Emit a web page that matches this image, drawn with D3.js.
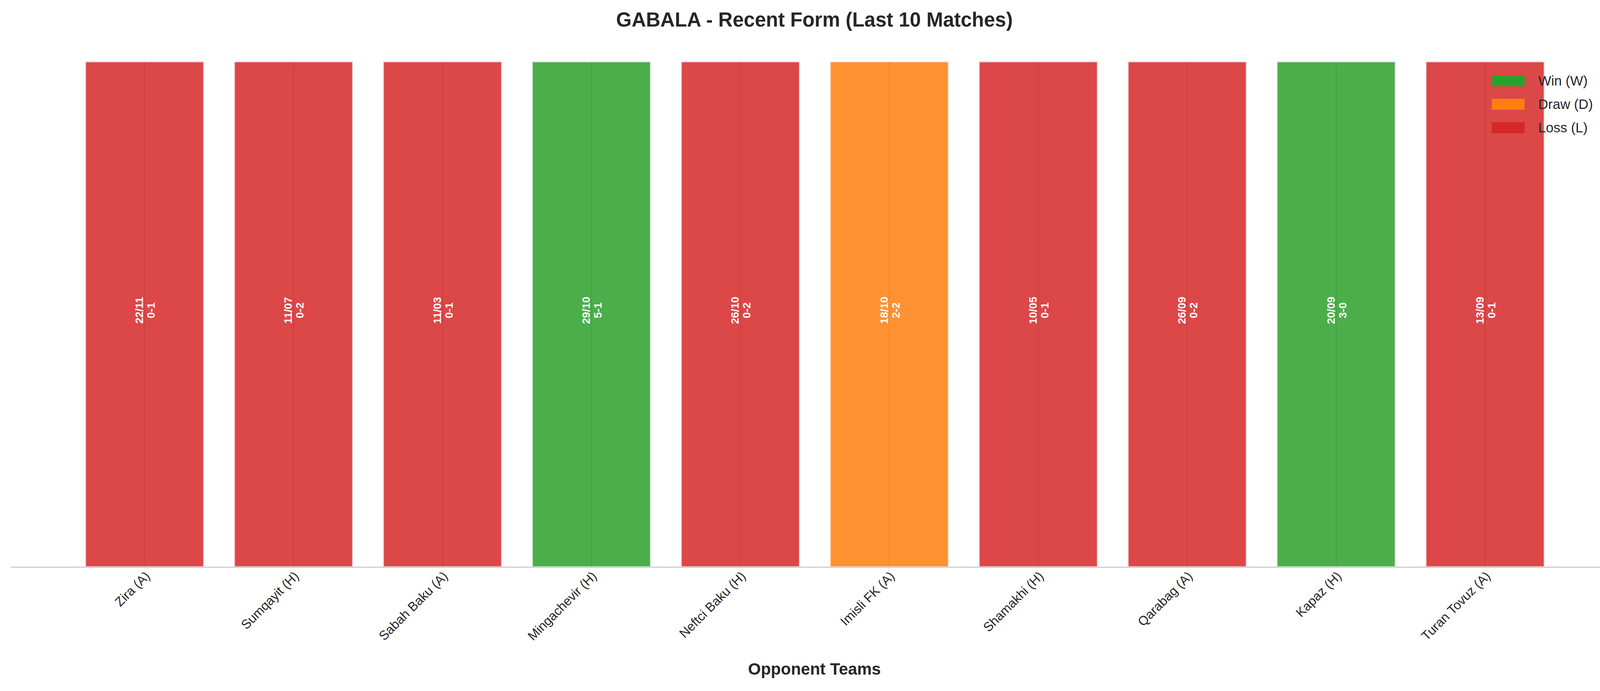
<!DOCTYPE html>
<html><head><meta charset="utf-8">
<script src="https://cdn.jsdelivr.net/npm/d3@7"></script>
<style>body{margin:0;background:#fff;font-family:"Liberation Sans",Arial,sans-serif;}</style>
</head><body>
<script>
var opponents = ["Zira (A)","Sumqayit (H)","Sabah Baku (A)","Mingachevir (H)","Neftci Baku (H)","Imisli FK (A)","Shamakhi (H)","Qarabag (A)","Kapaz (H)","Turan Tovuz (A)"];
var dates = ["22/11","11/07","11/03","29/10","26/10","18/10","10/05","26/09","20/09","13/09"];
var scores = ["0-1","0-2","0-1","5-1","0-2","2-2","0-1","0-2","3-0","0-1"];
var results = ["L","L","L","W","L","D","L","L","W","L"];
var values = [1,1,1,1,1,1,1,1,1,1];
var legendLabels = [["W","Win (W)"],["D","Draw (D)"],["L","Loss (L)"]];
var colors = {W:"#2ca02c", D:"#ff7f0e", L:"#d62728"};

var width = 4170, height = 1770;
var plotLeft = 27, plotRight = 4145, plotTop = 157, plotBottom = 1453;
var svg = d3.select("body").append("svg").attr("width", width).attr("height", height);

var x = d3.scaleBand().domain(opponents).range([plotLeft, plotRight]).paddingInner(0.2).paddingOuter(0.5);
var y = d3.scaleLinear().domain([0, 1]).range([plotBottom, plotTop]);

var data = opponents.map(function(o, i){ return {o:o, d:dates[i], s:scores[i], r:results[i], v:values[i]}; });

svg.selectAll("rect.bar").data(data).enter().append("rect")
    .attr("class","bar")
    .attr("x", function(d){ return x(d.o); })
    .attr("y", function(d){ return y(d.v); })
    .attr("width", x.bandwidth())
    .attr("height", function(d){ return y(0) - y(d.v); })
    .attr("fill", function(d){ return colors[d.r]; })
    .attr("fill-opacity", 0.85)
    .attr("stroke", "#fff").attr("stroke-opacity", 0.8).attr("stroke-width", 5);

// faint grid line through bar centers
svg.selectAll("line.grid").data(data).enter().append("line")
    .attr("x1", function(d){ return x(d.o) + x.bandwidth()/2; })
    .attr("x2", function(d){ return x(d.o) + x.bandwidth()/2; })
    .attr("y1", y(1)).attr("y2", y(0))
    .attr("stroke", "#000").attr("stroke-opacity", 0.06).attr("stroke-width", 3);

var lbl = svg.selectAll("g.lbl").data(data).enter().append("g");
lbl.each(function(d){
    var g = d3.select(this);
    var cy = (y(0) + y(d.v)) / 2;
    g.attr("transform", "translate(" + (x(d.o) + x.bandwidth()/2) + "," + (cy - 10) + ") rotate(-90)");
    g.append("text").attr("text-anchor","middle").attr("y", -4).attr("fill","#fff")
        .attr("font-weight","bold").attr("font-size", 28).text(d.d);
    g.append("text").attr("text-anchor","middle").attr("y", 26).attr("fill","#fff")
        .attr("font-weight","bold").attr("font-size", 28).text(d.s);
});

// x axis
var xAxis = svg.append("g").attr("transform", "translate(0," + plotBottom + ")")
    .call(d3.axisBottom(x).tickSize(0).tickPadding(12));
xAxis.select(".domain").attr("stroke", "#cccccc").attr("stroke-width", 3).attr("d", "M" + plotLeft + ",0H" + plotRight);
xAxis.selectAll("text")
    .attr("font-size", 33).attr("fill", "#262626")
    .attr("font-family", "Liberation Sans, Arial, sans-serif")
    .style("text-anchor", "end")
    .attr("dx", "-0.2em").attr("dy", "0.5em")
    .attr("transform", "rotate(-45)");

svg.append("text").attr("x", width/2).attr("y", 1728).attr("text-anchor","middle")
    .attr("font-size", 42).attr("font-weight","bold").attr("fill","#262626").text("Opponent Teams");

svg.append("text").attr("x", width/2).attr("y", 68).attr("text-anchor","middle")
    .attr("font-size", 51).attr("font-weight","bold").attr("fill","#262626").text("GABALA - Recent Form (Last 10 Matches)");

var lg = svg.append("g").attr("transform", "translate(3819,193)");
lg.selectAll("rect").data(legendLabels).enter().append("rect")
    .attr("x", 0).attr("y", function(d, i){ return i * 60; })
    .attr("width", 84).attr("height", 28)
    .attr("fill", function(d){ return colors[d[0]]; });
lg.selectAll("text").data(legendLabels).enter().append("text")
    .attr("x", 119).attr("y", function(d, i){ return i * 60 + 26; })
    .attr("font-size", 35).attr("fill", "#262626").text(function(d){ return d[1]; });
</script>
</body></html>
